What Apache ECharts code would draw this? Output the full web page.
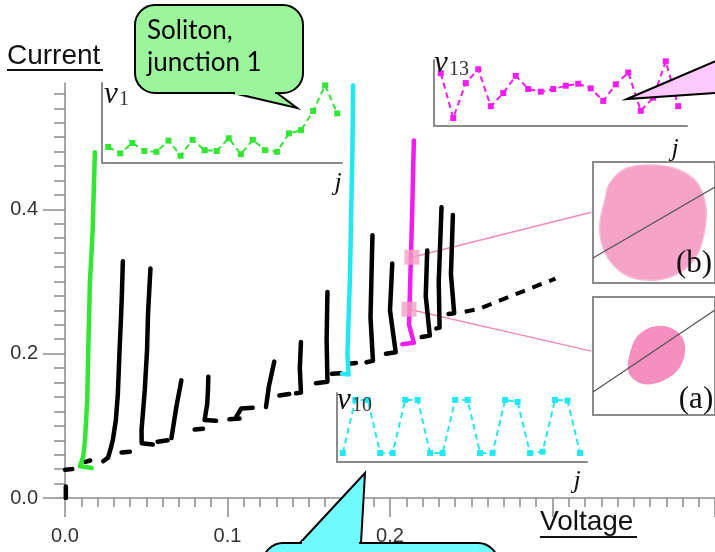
<!DOCTYPE html>
<html>
<head>
<meta charset="utf-8">
<script src="https://cdn.jsdelivr.net/npm/echarts@6/dist/echarts.min.js"></script>
<style>
html,body{margin:0;padding:0;background:#fff;}
#chart{width:715px;height:552px;}
</style>
</head>
<body>
<div id="chart"></div>
<script>
// ---------- Main I-V data (Voltage, Current) ----------
const greenBranch = [[0.0164,0.0415],[0.0092,0.044],[0.0112,0.057],[0.0123,0.08],[0.0137,0.136],[0.0143,0.205],[0.0153,0.298],[0.0164,0.343],[0.017,0.371],[0.0184,0.479]];
const cyanBranch = [[0.1705,0.172],[0.1745,0.171],[0.1738,0.2],[0.1753,0.302],[0.1761,0.395],[0.1769,0.486],[0.1773,0.572]];
const magentaBranch = [[0.2076,0.213],[0.2147,0.215],[0.2117,0.24],[0.2127,0.32],[0.2137,0.4],[0.2142,0.45],[0.2147,0.4955]];
const blackSegments = [
  [[0.0005,0.0],[0.0005,0.016]],
  [[0.0,0.039],[0.0045,0.04]],
  [[0.0125,0.05],[0.0155,0.052]],
  [[0.0235,0.051],[0.0265,0.056],[0.0282,0.069],[0.0294,0.08],[0.0313,0.108],[0.0325,0.143],[0.0331,0.177],[0.0337,0.212],[0.0344,0.246],[0.035,0.281],[0.0356,0.328]],
  [[0.0348,0.063],[0.0399,0.064]],
  [[0.054,0.074],[0.0472,0.076],[0.0471,0.094],[0.0491,0.15],[0.0505,0.205],[0.0511,0.256],[0.0526,0.318]],
  [[0.057,0.078],[0.0632,0.08]],
  [[0.0655,0.083],[0.0685,0.126],[0.0716,0.163]],
  [[0.0798,0.095],[0.0849,0.096]],
  [[0.093,0.107],[0.0859,0.108],[0.0875,0.13],[0.088,0.15],[0.0882,0.168]],
  [[0.1012,0.109],[0.1074,0.11]],
  [[0.1055,0.113],[0.1085,0.124],[0.1155,0.125]],
  [[0.1237,0.126],[0.1255,0.155],[0.1288,0.189]],
  [[0.1319,0.142],[0.138,0.144]],
  [[0.1422,0.145],[0.1452,0.146],[0.1445,0.18],[0.1452,0.216]],
  [[0.1544,0.159],[0.1615,0.161],[0.161,0.22],[0.1615,0.2855]],
  [[0.1642,0.172],[0.1697,0.173]],
  [[0.1748,0.186],[0.179,0.187]],
  [[0.1855,0.188],[0.1895,0.19],[0.188,0.25],[0.1892,0.364]],
  [[0.1975,0.2],[0.2035,0.202],[0.2,0.26],[0.2014,0.325]],
  [[0.2195,0.223],[0.2245,0.225],[0.222,0.28],[0.2229,0.343]],
  [[0.2285,0.235],[0.2305,0.236],[0.23,0.3],[0.2317,0.403]],
  [[0.236,0.255],[0.2395,0.256],[0.2375,0.31],[0.2387,0.392]]
];
const blackDashed = [[0.246,0.258],[0.2546,0.262],[0.2791,0.284],[0.3018,0.304]];
const markB = [[0.2135,0.3336]];
const markA = [[0.2117,0.2616]];
const connectorB = [[0.2135,0.3336],[0.3239,0.3958]];
const connectorA = [[0.2117,0.2616],[0.3239,0.2035]];

// ---------- Axis ticks ----------
const xLabelValues = [0, 0.1, 0.2];
const yLabelValues = [0, 0.2, 0.4];
const yMinorTicks = [0,0.02,0.04,0.06,0.08,0.1,0.12,0.14,0.16,0.18,0.2,0.22,0.24,0.26,0.28,0.3,0.32,0.34,0.36,0.38,0.4,0.42,0.44,0.46,0.48,0.5,0.52,0.54,0.56];

// ---------- Insets: junction index j and voltage profiles ----------
const jIndex = [1,2,3,4,5,6,7,8,9,10,11,12,13,14,15,16,17,18,19,20];
const v1Values = [0.2,0.12,0.25,0.15,0.14,0.28,0.09,0.29,0.16,0.15,0.31,0.11,0.29,0.16,0.14,0.37,0.41,0.65,0.97,0.62];
const v13Values = [0.8,0.12,0.65,0.86,0.3,0.5,0.76,0.56,0.52,0.56,0.61,0.64,0.57,0.38,0.63,0.81,0.23,0.43,0.98,0.3];
const v10Values = [0.13,0.9,0.9,0.13,0.13,0.9,0.9,0.13,0.13,0.9,0.9,0.13,0.13,0.9,0.87,0.13,0.15,0.9,0.89,0.13];

// ---------- Phase portraits (a), (b) ----------
const blobB = [[0.098,0.686],[0.138,0.826],[0.274,0.948],[0.488,0.975],[0.707,0.934],[0.854,0.826],[0.925,0.631],[0.911,0.413],[0.843,0.217],[0.707,0.083],[0.518,0.025],[0.301,0.052],[0.152,0.165],[0.071,0.331],[0.057,0.496]];
const blobA = [[0.301,0.494],[0.368,0.664],[0.518,0.748],[0.68,0.706],[0.748,0.579],[0.707,0.409],[0.572,0.297],[0.409,0.269],[0.301,0.353]];
const lineB = [[0,0.207],[1,0.793]];
const lineA = [[0,0.195],[1,0.89]];

const GREEN = '#33e633', CYAN = '#22e8f2', MAGENTA = '#f01cf0', PINK = '#f5a3c6';
const AX = '#8a8a8a';
const FONT = 'Liberation Sans';
const SERIF = 'Liberation Serif';

function zip(xs, ys){ return xs.map((x,i)=>[x, ys[i]]); }

const chart = echarts.init(document.getElementById('chart'), null, {renderer:'canvas'});

const hiddenAxis = (grid, min, max) => ({
  type:'value', gridIndex:grid, min:min, max:max,
  axisLine:{show:false}, axisTick:{show:false}, axisLabel:{show:false}, splitLine:{show:false}
});
const insetAxis = (grid, min, max, pos) => ({
  type:'value', gridIndex:grid, min:min, max:max, position:pos,
  axisLine:{show:true, onZero:false, lineStyle:{color:AX, width:2}},
  axisTick:{show:false}, axisLabel:{show:false}, splitLine:{show:false}
});

function blobSeries(xi, yi, pts, fill, stroke){
  return {
    type:'custom', xAxisIndex:xi, yAxisIndex:yi, data:pts, z:3,
    renderItem:function(params, api){
      if (params.dataIndex !== 0) return null;
      const P = pts.map(p => api.coord(p));
      return {type:'polygon', shape:{points:P, smooth:0.35}, style:{fill:fill, stroke:stroke, lineWidth:1.5}};
    }
  };
}

const series = [];
blackSegments.forEach(seg => series.push({
  type:'line', xAxisIndex:0, yAxisIndex:0, data:seg, symbol:'none',
  lineStyle:{color:'#000', width:4.5, cap:'round', join:'round'}, z:4, silent:true
}));
series.push({type:'line', xAxisIndex:0, yAxisIndex:0, data:blackDashed, symbol:'none',
  lineStyle:{color:'#000', width:4, type:[10,8]}, z:4});
series.push({type:'line', xAxisIndex:0, yAxisIndex:0, data:greenBranch, symbol:'none',
  lineStyle:{color:GREEN, width:4.5, cap:'round', join:'round'}, z:5});
series.push({type:'line', xAxisIndex:0, yAxisIndex:0, data:cyanBranch, symbol:'none',
  lineStyle:{color:CYAN, width:4.5, cap:'round', join:'round'}, z:5});
series.push({type:'line', xAxisIndex:0, yAxisIndex:0, data:magentaBranch, symbol:'none',
  lineStyle:{color:MAGENTA, width:4.5, cap:'round', join:'round'}, z:5});
series.push({type:'line', xAxisIndex:0, yAxisIndex:0, data:connectorB, symbol:'none',
  lineStyle:{color:'#f08cb8', width:1.5}, z:3});
series.push({type:'line', xAxisIndex:0, yAxisIndex:0, data:connectorA, symbol:'none',
  lineStyle:{color:'#f08cb8', width:1.5}, z:3});
series.push({type:'scatter', xAxisIndex:0, yAxisIndex:0, data:markB.concat(markA), symbol:'rect', symbolSize:15,
  itemStyle:{color:'#f4a0c0'}, z:6});
series.push({type:'line', xAxisIndex:1, yAxisIndex:2, data:zip(jIndex, v1Values), symbol:'rect', symbolSize:6,
  itemStyle:{color:GREEN}, lineStyle:{color:GREEN, width:2, type:[6,4]}, z:4});
series.push({type:'line', xAxisIndex:2, yAxisIndex:3, data:zip(jIndex, v13Values), symbol:'rect', symbolSize:6,
  itemStyle:{color:MAGENTA}, lineStyle:{color:MAGENTA, width:2, type:[6,4]}, z:4});
series.push({type:'line', xAxisIndex:3, yAxisIndex:4, data:zip(jIndex, v10Values), symbol:'rect', symbolSize:6,
  itemStyle:{color:CYAN}, lineStyle:{color:CYAN, width:2, type:[6,4]}, z:4});
series.push(blobSeries(4, 5, blobB, PINK, '#f7b8d4'));
series.push(blobSeries(5, 6, blobA, '#f48fbf', '#f48fbf'));
series.push({type:'line', xAxisIndex:4, yAxisIndex:5, data:lineB, symbol:'none', lineStyle:{color:'#555', width:1.3}, z:5});
series.push({type:'line', xAxisIndex:5, yAxisIndex:6, data:lineA, symbol:'none', lineStyle:{color:'#555', width:1.3}, z:5});

function ptext(x, y, text, font, align, valign, fill){
  return {type:'text', x:x, y:y, z:100, style:{text:text, font:font, fill:fill||'#111', align:align||'left', verticalAlign:valign||'middle'}};
}
function callout(rect, r, tail, fill){
  return [
    {type:'rect', z:90, shape:{x:rect[0], y:rect[1], width:rect[2], height:rect[3], r:r}, style:{fill:fill, stroke:'#000', lineWidth:2}},
    {type:'polygon', z:91, shape:{points:tail}, style:{fill:fill, stroke:'#000', lineWidth:2}},
    {type:'line', z:92, shape:{x1:tail[0][0]+2, y1:tail[0][1], x2:tail[2][0]-2, y2:tail[2][1]}, style:{stroke:fill, lineWidth:4}}
  ];
}

const graphics = [
  ptext(7, 56, 'Current', '28px ' + FONT, 'left', 'middle'),
  {type:'line', z:100, shape:{x1:7, y1:70, x2:103, y2:70}, style:{stroke:'#111', lineWidth:2}},
  ptext(540, 522, 'Voltage', '28px ' + FONT, 'left', 'middle'),
  {type:'line', z:100, shape:{x1:540, y1:537, x2:637, y2:537}, style:{stroke:'#111', lineWidth:2}},
  ptext(104, 95, 'v', 'italic 31px ' + SERIF),
  ptext(119, 100, '1', '20px ' + SERIF, 'left', 'middle', '#333'),
  ptext(434, 64, 'v', 'italic 31px ' + SERIF),
  ptext(449, 70, '13', '20px ' + SERIF, 'left', 'middle', '#333'),
  ptext(337, 401, 'v', 'italic 31px ' + SERIF),
  ptext(352, 406, '10', '20px ' + SERIF, 'left', 'middle', '#333'),
  ptext(338, 183, 'j', 'italic 26px ' + SERIF, 'center'),
  ptext(675, 149, 'j', 'italic 26px ' + SERIF, 'center'),
  ptext(577, 481, 'j', 'italic 26px ' + SERIF, 'center'),
  ptext(694, 264, '(b)', '31px ' + SERIF, 'center'),
  ptext(696, 400, '(a)', '31px ' + SERIF, 'center')
]
.concat(callout([135,5,168,88], 20, [[233,93],[297,108],[277,93]], '#9cf59c'))
.concat([
  ptext(147, 31, 'Soliton,', '26px Lato', 'left', 'middle', '#000'),
  ptext(147, 63, 'junction 1', '26px Lato', 'left', 'middle', '#000'),
  {type:'polygon', z:90, shape:{points:[[627,99],[730,55],[730,92]]}, style:{fill:'#fbc9fb', stroke:'#000', lineWidth:2}}
])
.concat(callout([263,543,235,60], 20, [[300,543],[365,473],[361,543]], '#70fbff'));

const option = {
  animation:false,
  backgroundColor:'#fff',
  grid:[
    {left:65, top:83, width:652, height:415},
    {left:102, top:83, width:240, height:80},
    {left:434, top:60, width:253, height:66},
    {left:337, top:393, width:250, height:69},
    {left:593, top:162, width:123, height:121, show:true, borderColor:'#8a8a8a', borderWidth:2, backgroundColor:'#fff'},
    {left:593, top:297, width:123, height:118, show:true, borderColor:'#8a8a8a', borderWidth:2, backgroundColor:'#fff'}
  ],
  xAxis:[
    {type:'value', gridIndex:0, min:0, max:0.4, interval:0.1, position:'bottom',
      axisLine:{show:true, onZero:false, lineStyle:{color:AX, width:1.5}},
      axisTick:{show:true, length:19, lineStyle:{color:AX, width:1.5}},
      minorTick:{show:true, splitNumber:10, length:9, lineStyle:{color:AX, width:1.5}},
      axisLabel:{show:true, customValues:xLabelValues, margin:28, color:'#333', fontSize:20, fontFamily:FONT,
        formatter:v => v.toFixed(1)},
      splitLine:{show:false}, minorSplitLine:{show:false}},
    insetAxis(1, 0.48, 20.4, 'bottom'),
    insetAxis(2, 0.46, 20.7, 'bottom'),
    insetAxis(3, 0.54, 20.56, 'bottom'),
    hiddenAxis(4, 0, 1),
    hiddenAxis(5, 0, 1)
  ],
  yAxis:[
    {type:'value', gridIndex:0, min:0, max:0.575, position:'left',
      axisLine:{show:true, onZero:false, lineStyle:{color:AX, width:1.5}},
      axisTick:{show:true, customValues:yLabelValues, length:22, lineStyle:{color:AX, width:1.5}},
      axisLabel:{show:true, customValues:yLabelValues, margin:27, color:'#333', fontSize:20, fontFamily:FONT,
        formatter:v => v.toFixed(1)},
      splitLine:{show:false}},
    {type:'value', gridIndex:0, min:0, max:0.575, position:'left',
      axisLine:{show:false},
      axisTick:{show:true, customValues:yMinorTicks, length:11, lineStyle:{color:AX, width:1.5}},
      axisLabel:{show:false}, splitLine:{show:false}},
    insetAxis(1, 0, 1, 'left'),
    insetAxis(2, 0, 1, 'left'),
    insetAxis(3, 0, 1, 'left'),
    hiddenAxis(4, 0, 1),
    hiddenAxis(5, 0, 1)
  ],
  series:series,
  graphic:graphics
};
chart.setOption(option);
</script>
</body>
</html>
